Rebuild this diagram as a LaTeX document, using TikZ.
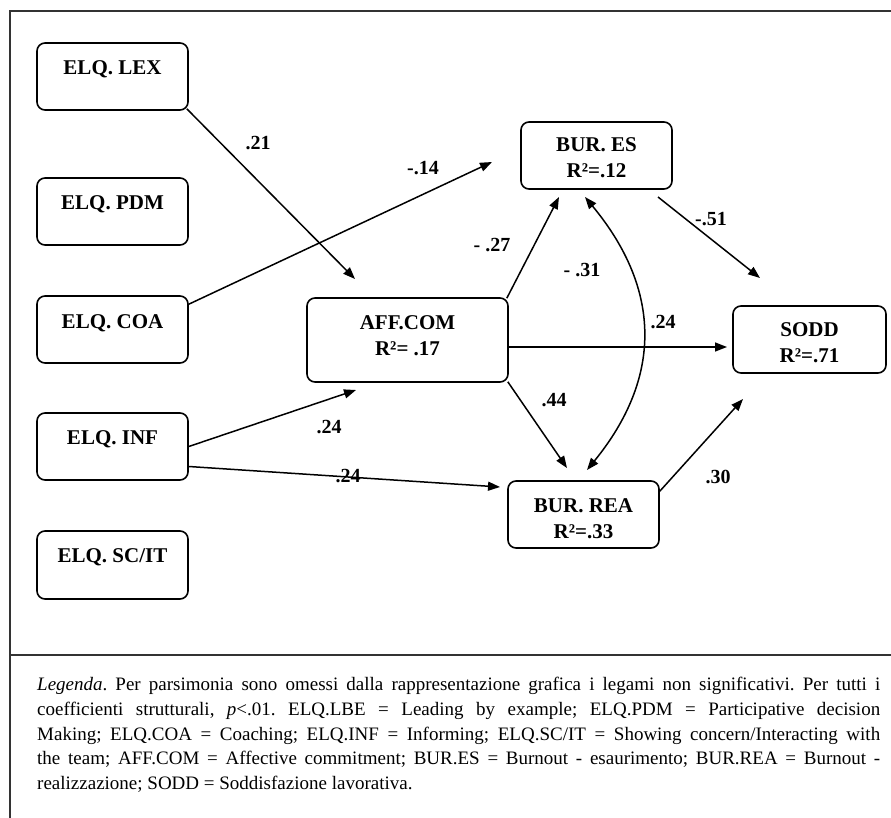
\documentclass[tikz,border=0pt]{standalone}
\usepackage{fontspec}
\setmainfont{Liberation Serif}
\usetikzlibrary{arrows.meta}
\begin{document}
\begin{tikzpicture}[x=1pt,y=-1pt,
  box/.style={draw, line width=1.6pt, rounded corners=8pt, inner sep=0pt},
  lbl/.style={font=\fontsize{21}{25}\selectfont\bfseries, inner sep=0pt, anchor=base},
  coef/.style={font=\fontsize{20}{24}\selectfont\bfseries, inner sep=0pt},
  conn/.style={line width=1.5pt, -{Triangle[length=12pt,width=9pt]}},
  frameline/.style={line width=1.3pt, draw=black!80}]
\useasboundingbox (0,0) rectangle (891,818);
% frame
\draw[frameline] (891,11) -- (10,11) -- (10,818);
\draw[frameline] (10,655) -- (891,655);

% left boxes
\node[box, minimum width=151pt, minimum height=67pt] (lex) at (112.5,76.5) {};
\node[lbl] (lext) at (112.5,75) {ELQ. LEX};
\node[box, minimum width=151pt, minimum height=67pt] (pdm) at (112.5,211.5) {};
\node[lbl] (pdmt) at (112.5,210) {ELQ. PDM};
\node[box, minimum width=151pt, minimum height=67pt] (coa) at (112.5,329.5) {};
\node[lbl] (coat) at (112.5,328) {ELQ. COA};
\node[box, minimum width=151pt, minimum height=67pt] (inf) at (112.5,446.5) {};
\node[lbl] (inft) at (112.5,444) {ELQ. INF};
\node[box, minimum width=151pt, minimum height=68pt] (scit) at (112.5,565) {};
\node[lbl] (scitt) at (112.5,562) {ELQ. SC/IT};

% central boxes
\node[box, minimum width=201pt, minimum height=84pt] (aff) at (407.5,340) {};
\node[lbl] (afft1) at (407.5,329) {AFF.COM};
\node[lbl] (afft2) at (407.5,355) {R²= .17};
\node[box, minimum width=151pt, minimum height=67pt] (bes) at (596.5,155.5) {};
\node[lbl] (best1) at (596.5,152) {BUR. ES};
\node[lbl] (best2) at (596.5,178) {R²=.12};
\node[box, minimum width=153pt, minimum height=67pt] (sodd) at (809.5,339.5) {};
\node[lbl] (soddt1) at (809.5,336) {SODD};
\node[lbl] (soddt2) at (809.5,362) {R²=.71};
\node[box, minimum width=151pt, minimum height=67pt] (rea) at (583.5,514.5) {};
\node[lbl] (reat1) at (583.5,512) {BUR. REA};
\node[lbl] (reat2) at (583.5,538) {R²=.33};

% arrow tips (free ends)
\coordinate (tLexAff) at (355,279);
\coordinate (tCoaBes) at (492,162);
\coordinate (tInfAff) at (356,390);
\coordinate (tInfRea) at (500,487);
\coordinate (tAffBes) at (559,197);
\coordinate (tAffSodd) at (727,347);
\coordinate (tAffRea) at (567,468);
\coordinate (sBesSodd) at (658,197);
\coordinate (tBesSodd) at (760,278);
\coordinate (tReaSodd) at (743,399);
\coordinate (cTop) at (585,197);
\coordinate (cBot) at (587,470);

% connectors
\draw[conn] ([xshift=-2pt,yshift=2pt]lex.south east) -- (tLexAff);
\draw[conn] ([yshift=-9pt]coa.north east) -- (tCoaBes);
\draw[conn] (inf.east) -- (tInfAff);
\draw[conn] ([yshift=-20pt]inf.east) -- (tInfRea);
\draw[conn] ([xshift=-2pt,yshift=-1pt]aff.north east) -- (tAffBes);
\draw[conn] ([yshift=-7pt]aff.east) -- (tAffSodd);
\draw[conn] ([xshift=-1pt,yshift=1pt]aff.south east) -- (tAffRea);
\draw[conn] (sBesSodd) -- (tBesSodd);
\draw[conn] ([yshift=-11pt]rea.north east) -- (tReaSodd);
\draw[line width=1.5pt, {Triangle[length=12pt,width=9pt]}-{Triangle[length=12pt,width=9pt]}]
  (cTop) .. controls (662,290) and (662,378) .. (cBot);

% coefficients
\node[coef] (c1) at (258,143) {.21};
\node[coef] (c2) at (423,168) {-.14};
\node[coef] (c3) at (492,245) {- .27};
\node[coef] (c4) at (582,270) {- .31};
\node[coef] (c5) at (663,322) {.24};
\node[coef] (c6) at (711,219) {-.51};
\node[coef] (c7) at (554,400) {.44};
\node[coef] (c8) at (329,427) {.24};
\node[coef] (c9) at (348,476) {.24};
\node[coef] (c10) at (718,477) {.30};

% legend
\node[anchor=north west, text width=843pt, align=justify, inner sep=0pt,
      font=\fontsize{19}{24.8}\selectfont] (legend) at (37,677)
{\frenchspacing\hyphenpenalty=10000\tolerance=9999
\textit{Legenda}. Per parsimonia sono omessi dalla rappresentazione grafica i legami non significativi. Per tutti i\linebreak
coefficienti strutturali, \textit{p}<.01. ELQ.LBE = Leading by example; ELQ.PDM = Participative decision\linebreak
Making; ELQ.COA = Coaching; ELQ.INF = Informing; ELQ.SC/IT = Showing concern/Interacting with\linebreak
the team; AFF.COM = Affective commitment; BUR.ES = Burnout - esaurimento; BUR.REA = Burnout -\linebreak
realizzazione; SODD = Soddisfazione lavorativa.};
\end{tikzpicture}
\end{document}
